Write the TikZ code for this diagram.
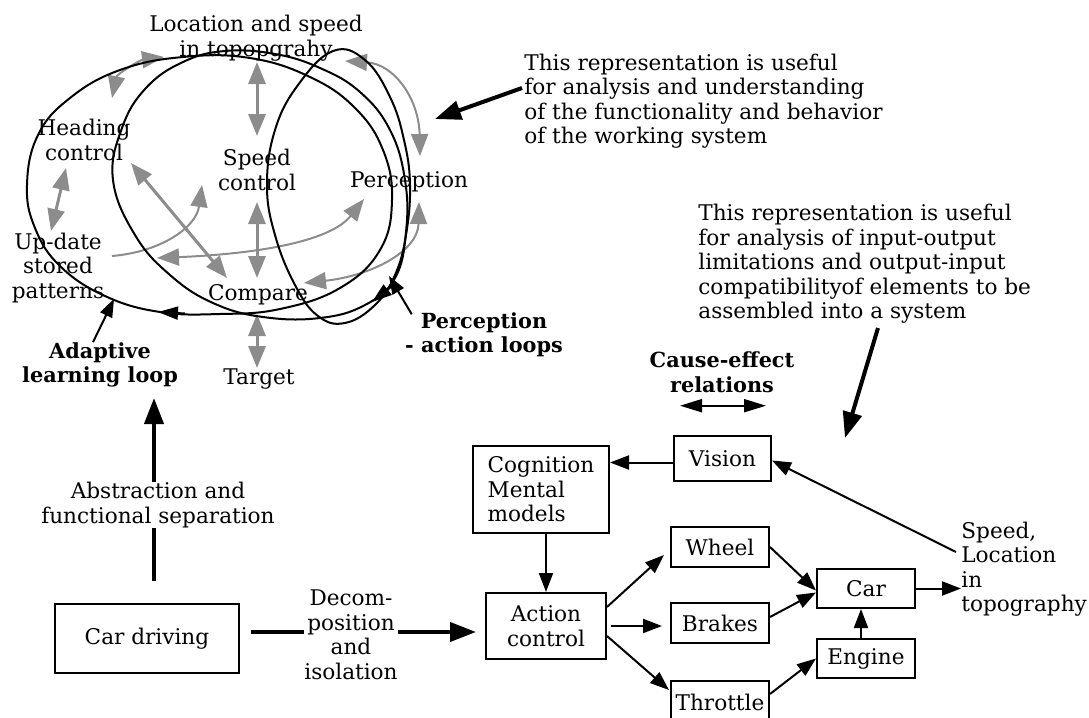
\documentclass[tikz,border=0pt]{standalone}
\usepackage{fontspec}
\setmainfont{DejaVu Serif}
\usetikzlibrary{arrows.meta}
\definecolor{loopgray}{gray}{0.55}
\tikzset{
  txt/.style={font=\fontsize{10.8}{12.25}\selectfont, inner sep=0pt, align=center},
  lbl/.style={txt, font=\fontsize{10.4}{12.25}\selectfont\bfseries},
  box/.style={txt, draw, line width=1pt},
  link/.style={line width=1pt, -{Triangle[length=9.5pt,width=7pt]}},
  bigarrow/.style={line width=2pt, -{Triangle[length=13pt,width=9.5pt]}},
  pointer/.style={line width=1pt, -{Triangle[length=9pt,width=6.5pt]}},
  twoway/.style={line width=1pt, {Triangle[length=11pt,width=6.5pt]}-{Triangle[length=11pt,width=6.5pt]}},
  loopline/.style={line width=1pt},
  looptip/.style={line width=1pt, -{Triangle[length=10pt,width=6.5pt]}},
  grayline/.style={draw=loopgray, line width=1.5pt, {Triangle[length=11pt,width=8.5pt]}-{Triangle[length=11pt,width=8.5pt]}},
  graycurve/.style={grayline, line width=1pt},
  grayone/.style={draw=loopgray, line width=1pt, -{Triangle[length=11pt,width=8.5pt]}},
}
\begin{document}
\begin{tikzpicture}[x=0.5pt,y=-0.5pt]
\useasboundingbox (0,0) rectangle (1089,718);

% ---------- functional view: labels of the loops ----------
\node[txt] (loc) at (256,38) {Location and speed\\in topopgrahy};
\node[txt] (head) at (84,140) {Heading\\control};
\node[txt] (speed) at (257,170) {Speed\\control};
\node[txt] (perc) at (409,182) {Perception};
\node[txt] (update) at (58,268) {Up-date\\stored\\patterns};
\node[txt] (compare) at (258,295) {Compare};
\node[txt] (target) at (259,379) {Target};
\node[lbl] (adapt) at (100,365) {Adaptive\\learning loop};
\node[lbl] (pal) at (484,335) {Perception\\- action loops};

% gray interaction arrows
\coordinate (g1a) at (257,62);   \coordinate (g1b) at (257,136);
\coordinate (g2a) at (257,202);  \coordinate (g2b) at (257,278);
\coordinate (g3a) at (257,314);  \coordinate (g3b) at (257,368);
\coordinate (g4a) at (66,168);   \coordinate (g4b) at (51,231);
\coordinate (g5a) at (131,163);  \coordinate (g5b) at (227,278);
\coordinate (g6a) at (112,256);  \coordinate (g6b) at (202,185);
\coordinate (g7a) at (157,258);  \coordinate (g7b) at (364,199);
\coordinate (g8a) at (112,98);   \coordinate (g8b) at (164,57);
\coordinate (g9a) at (345,61);   \coordinate (g9b) at (420,156);
\coordinate (g10a) at (419,202); \coordinate (g10b) at (304,283);

\draw[grayline] (g1a) -- (g1b);
\draw[grayline] (g2a) -- (g2b);
\draw[grayline] (g3a) -- (g3b);
\draw[grayline] (g4a) -- (g4b);
\draw[grayline] (g5a) -- (g5b);
\draw[grayone] (g6a) .. controls (160,252) and (196,228) .. (g6b);
\draw[graycurve] (g7a) .. controls (255,254) and (330,242) .. (g7b);
\draw[graycurve] (g8a) .. controls (117,74) and (140,60) .. (g8b);
\draw[graycurve] (g9a) .. controls (395,64) and (419,100) .. (g9b);
\draw[graycurve] (g10a) .. controls (418,252) and (370,276) .. (g10b);

% black loops (all run clockwise)
\draw[loopline] plot[smooth cycle, tension=0.7] coordinates {
  (27,185) (38,135) (70,98) (120,70) (183,57) (250,58) (310,77)
  (355,108) (383,150) (392,200) (380,250) (340,288) (280,309)
  (220,314) (160,312) (105,296) (60,266) (35,228)};
\draw[loopline] plot[smooth cycle, tension=0.7] coordinates {
  (113,180) (122,128) (146,88) (183,62) (225,51) (275,54) (320,68)
  (360,92) (390,130) (405,180) (406,232) (395,278) (365,305)
  (320,318) (263,317) (213,303) (170,275) (135,235)};
\draw[loopline] plot[smooth cycle, tension=0.7] coordinates {
  (267,185) (275,130) (298,85) (333,51) (365,60) (390,97) (404,140)
  (410,185) (406,235) (395,275) (375,305) (345,323) (318,316)
  (295,285) (275,235)};
\draw[looptip] (185,313.5) -- (158,312);
\draw[looptip] (391,287) -- (372,302);

% pointers to the loops
\coordinate (adaptTip) at (114,299);
\coordinate (palTip) at (389,276);
\draw[pointer] ([xshift=-3.5pt]adapt.north) -- (adaptTip);
\draw[pointer] ([shift={(3.5pt,-1pt)}]pal.north west) -- (palTip);

% ---------- notes ----------
\node[txt, align=left, anchor=west] (note1) at (524,101)
  {This representation is useful\\for analysis and understanding\\of the functionality and behavior\\of the working system};
\node[txt, align=left, anchor=west] (note2) at (698,264)
  {This representation is useful\\for analysis of input-output\\limitations and output-input\\compatibilityof elements to be\\assembled into a system};
\coordinate (note1Tip) at (435,119);
\coordinate (note2Start) at (878,328);
\coordinate (note2Tip) at (845,438);
\draw[bigarrow] ([shift={(-1pt,6.5pt)}]note1.west) -- (note1Tip);
\draw[bigarrow] (note2Start) -- (note2Tip);

\node[lbl] (cause) at (722,372) {Cause-effect\\relations};
\draw[twoway] ([shift={(-21pt,-6.5pt)}]cause.south) -- ([shift={(22pt,-6.5pt)}]cause.south);

% ---------- structural view: boxes ----------
\node[box, minimum width=92pt, minimum height=34.5pt] (drive) at (147,638.5) {Car driving};
\node[box, minimum width=68pt, minimum height=43.5pt, align=left] (cog) at (541,489.5) {Cognition\\Mental\\models};
\node[box, minimum width=48.5pt, minimum height=22.5pt] (vision) at (722.5,458.5) {Vision};
\node[box, minimum width=60pt, minimum height=33pt] (action) at (546,626) {Action\\control};
\node[box, minimum width=49pt, minimum height=20pt] (wheel) at (720,547) {Wheel};
\node[box, minimum width=49pt, minimum height=20pt] (brakes) at (720,623) {Brakes};
\node[box, minimum width=49pt, minimum height=21pt] (throttle) at (720,702) {Throttle};
\node[box, minimum width=49pt, minimum height=19.5pt] (car) at (866,588.5) {Car};
\node[box, minimum width=49pt, minimum height=19.5pt] (engine) at (866,658.5) {Engine};
\node[txt, align=left, anchor=west] (out) at (961,569) {Speed,\\Location\\in\\topography};

% links between the elements
\draw[link] ([yshift=-2pt]vision.west) -- ([yshift=-2pt]vision.west -| cog.east);
\draw[link] (action.north |- cog.south) -- (action.north);
\draw[link] ([yshift=9.5pt]action.east) -- ([shift={(-3pt,-4pt)}]wheel.west);
\draw[link] ([shift={(2pt,0pt)}]action.east) -- ([xshift=-4pt]action.east -| brakes.west);
\draw[link] ([yshift=-5pt]action.east) -- ([shift={(-0.5pt,6pt)}]throttle.west);
\draw[link] (wheel.east) -- ([yshift=-1pt]car.west);
\draw[link] ([yshift=3pt]brakes.east) -- ([yshift=-2pt]car.west);
\draw[link] ([yshift=4pt]throttle.east) -- (engine.west);
\draw[link] ([xshift=-2.5pt]engine.north) -- ([xshift=-2.5pt]car.south);
\draw[link] (car.east) -- (car.east -| out.west);
\draw[link] ([shift={(-2.5pt,8.5pt)}]out.west) -- ([yshift=-1pt]vision.east);

% abstraction and decomposition
\coordinate (absTip) at (154,398);
\draw[bigarrow] ([shift={(3.5pt,11pt)}]drive.north) -- (absTip);
\node[txt, fill=white] (abs) at (158,505) {Abstraction and\\functional separation};
\draw[bigarrow] ([shift={(5.5pt,3.25pt)}]drive.east) -- ([shift={(-4.5pt,-3pt)}]action.west);
\node[txt, fill=white] (dec) at (351,635) {Decom-\\position\\and\\isolation};
\end{tikzpicture}
\end{document}
